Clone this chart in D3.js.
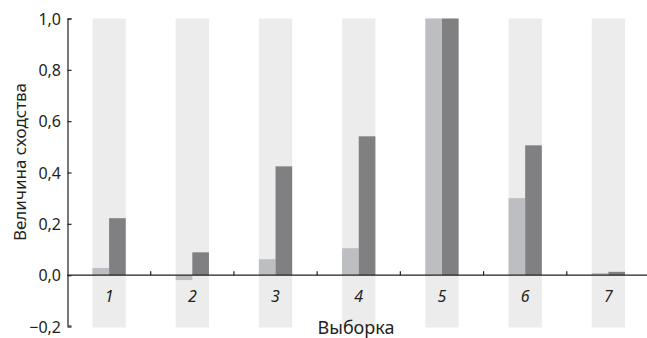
<!DOCTYPE html>
<html><head><meta charset="utf-8">
<script src="https://cdn.jsdelivr.net/npm/d3@7"></script>
<style>body{margin:0;background:#fff}svg{display:block}</style>
</head><body>
<svg id="c" width="647" height="338"></svg>
<script>
const categories = ["1","2","3","4","5","6","7"];
const seriesLight = [0.028, -0.019, 0.062, 0.105, 1.0, 0.30, 0.008];
const seriesDark = [0.222, 0.089, 0.424, 0.541, 1.0, 0.506, 0.013];
const yTicks = [-0.2, 0, 0.2, 0.4, 0.6, 0.8, 1.0];
const yTickLabels = ["\u22120,2","0,0","0,2","0,4","0,6","0,8","1,0"];
const yTitle = "Величина сходства";
const xTitle = "Выборка";

const svg = d3.select("#c");
const font = "'Noto Sans', 'Open Sans', sans-serif";
const x = d3.scaleBand().domain(categories).range([67.5, 650]).paddingInner(0.6).paddingOuter(0.3);
const y = d3.scaleLinear().domain([-0.2, 1.0]).range([326.5, 18.5]);
const bw = x.bandwidth();

// background bands
svg.append("g").selectAll("rect").data(categories).join("rect")
  .attr("x", d => x(d)).attr("width", bw)
  .attr("y", y(1.0)).attr("height", y(-0.2) - y(1.0) + 1)
  .attr("fill", "#ececec");

// light bars
svg.append("g").selectAll("rect").data(categories).join("rect")
  .attr("x", d => x(d)).attr("width", bw/2)
  .attr("y", (d,i) => y(Math.max(0, seriesLight[i])))
  .attr("height", (d,i) => Math.abs(y(seriesLight[i]) - y(0)))
  .attr("fill", "#bdbec2");
// dark bars
svg.append("g").selectAll("rect").data(categories).join("rect")
  .attr("x", d => x(d) + bw/2).attr("width", bw/2)
  .attr("y", (d,i) => y(Math.max(0, seriesDark[i])))
  .attr("height", (d,i) => Math.abs(y(seriesDark[i]) - y(0)))
  .attr("fill", "#808083");

// y axis
const yAxis = d3.axisRight(y).tickValues(yTicks).tickSize(4).tickFormat("");
const gy = svg.append("g").attr("transform", "translate(67.5,0)").call(yAxis);
gy.select(".domain").attr("d", `M4,${y(1.0)+0.5}H0.5V${y(-0.2)-0.5}H4`).attr("stroke", "#231f20").attr("stroke-width", 1.2);
gy.selectAll(".tick line").attr("stroke", "#231f20").attr("stroke-width", 1.2);
svg.append("g").selectAll("text").data(yTicks).join("text")
  .attr("x", 61).attr("y", d => y(d) + 6)
  .attr("text-anchor", "end").attr("font-family", font).attr("font-size", 16)
  .attr("fill", "#231f20")
  .text((d,i) => yTickLabels[i]);

// x axis at zero
const boundaries = categories.slice(1).map(c => x(c) - x.step()*x.paddingInner()/2);
svg.append("line").attr("x1", 67.5).attr("x2", 647).attr("y1", y(0)).attr("y2", y(0))
  .attr("stroke", "#231f20").attr("stroke-width", 1.2);
svg.append("g").selectAll("line").data(boundaries).join("line")
  .attr("x1", d => d).attr("x2", d => d).attr("y1", y(0)).attr("y2", y(0) - 4)
  .attr("stroke", "#231f20").attr("stroke-width", 1.2);
svg.append("g").selectAll("text").data(categories).join("text")
  .attr("x", d => x(d) + bw/2).attr("y", 302)
  .attr("text-anchor", "middle").attr("font-family", font).attr("font-style", "italic")
  .attr("font-size", 16).attr("fill", "#231f20").text(d => d);

// titles
svg.append("text").attr("x", 356).attr("y", 334).attr("text-anchor", "middle")
  .attr("font-family", font).attr("font-size", 18).attr("fill", "#231f20").text(xTitle);
svg.append("text").attr("transform", "translate(26,162) rotate(-90)").attr("text-anchor", "middle")
  .attr("font-family", font).attr("font-size", 17).attr("fill", "#231f20").text(yTitle);
</script>
</body></html>
